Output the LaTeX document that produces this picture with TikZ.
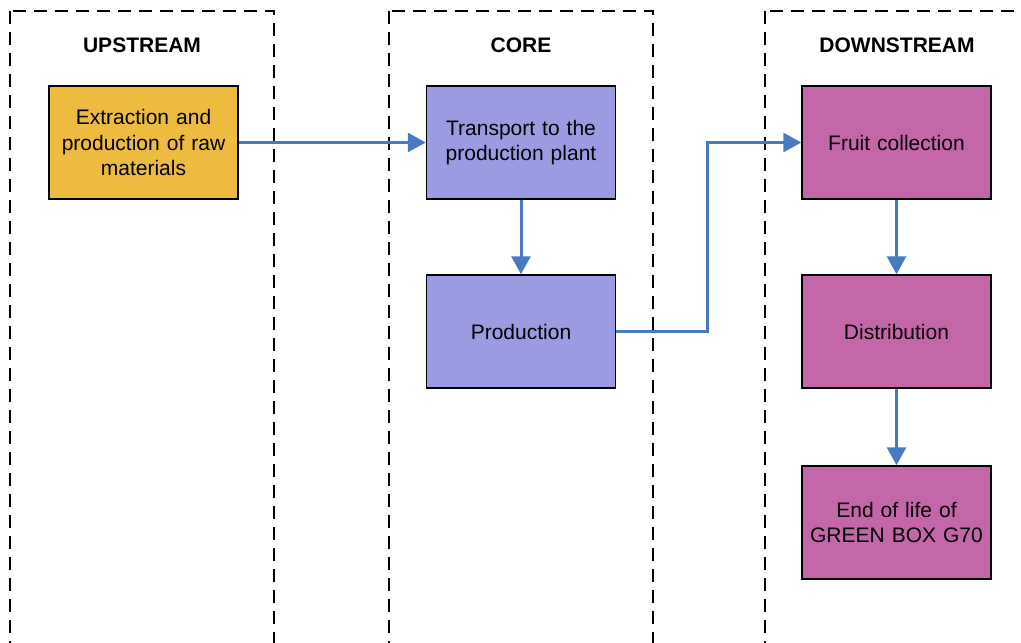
\documentclass[tikz,border=0pt]{standalone}
\usepackage{fontspec}
\setmainfont{Liberation Sans}
\usetikzlibrary{arrows.meta}
\definecolor{upcol}{RGB}{236,187,64}
\definecolor{corecol}{RGB}{155,155,225}
\definecolor{downcol}{RGB}{196,102,170}
\definecolor{arrcol}{RGB}{72,122,196}
\tikzset{
  container/.style={draw=black, line width=1.8pt, dash pattern=on 13pt off 8pt},
  heading/.style={font=\fontsize{21}{25}\selectfont\bfseries, inner sep=0pt},
  stepbox/.style={draw=black, line width=1.5pt, minimum width=189pt, minimum height=113pt,
    text width=180pt, align=center, inner sep=0pt, font=\fontsize{21}{25.5}\selectfont},
  flow/.style={draw=arrcol, line width=3pt, -{Triangle[length=18pt,width=19pt]}},
}
\begin{document}
\begin{tikzpicture}[x=1pt,y=-1pt]
\useasboundingbox (0,0) rectangle (1021,643);
\clip (0,0) rectangle (1021,643);
\fill[white] (0,0) rectangle (1021,643);
% containers
\draw[container] (10,11) rectangle (274,700);
\draw[container] (389,11) rectangle (653,700);
\draw[container] (765,11) rectangle (1030,700);
% headings
\node[heading] (hup) at (142,45) {UPSTREAM};
\node[heading] (hcore) at (521,45) {CORE};
\node[heading] (hdown) at (897,45) {DOWNSTREAM};
% boxes
\node[stepbox, fill=upcol] (extr) at (143.5,142.5) {Extraction and\\production of raw\\materials};
\node[stepbox, fill=corecol] (trans) at (521,142.5) {Transport to the\\production plant};
\node[stepbox, fill=corecol] (prod) at (521,331.5) {Production};
\node[stepbox, fill=downcol] (fruit) at (896.5,142.5) {Fruit collection};
\node[stepbox, fill=downcol] (dist) at (896.5,331.5) {Distribution};
\node[stepbox, fill=downcol] (eol) at (896.5,522.5) {End of life of\\GREEN BOX G70};
% connectors
\coordinate (bend1) at (707,331.5);
\coordinate (bend2) at (707,142.5);
\draw[flow] (extr.east) -- (trans.west);
\draw[flow] (trans.south) -- (prod.north);
\draw[flow] (prod.east) -- (bend1) -- (bend2) -- (fruit.west);
\draw[flow] (fruit.south) -- (dist.north);
\draw[flow] (dist.south) -- (eol.north);
\end{tikzpicture}
\end{document}
